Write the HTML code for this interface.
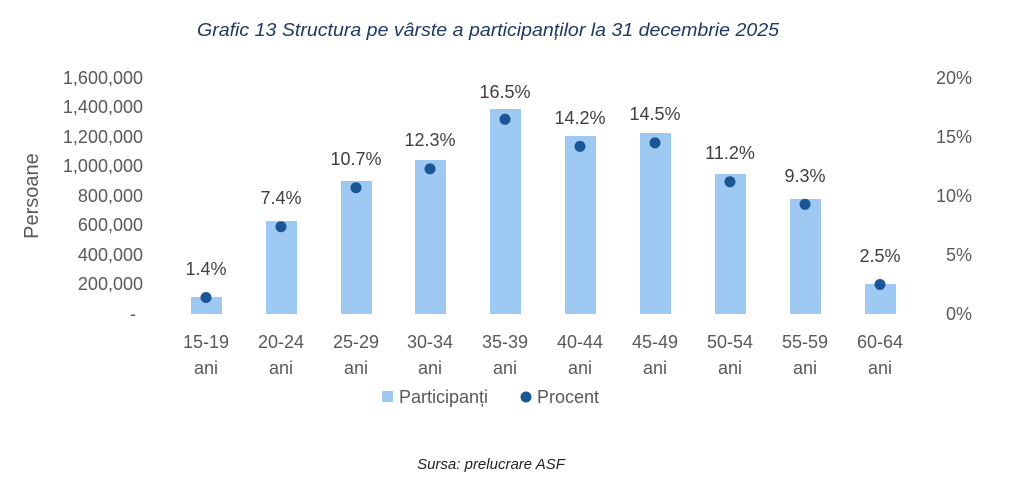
<!DOCTYPE html>
<html><head><meta charset="utf-8"><style>
body{margin:0;background:#fff;}
svg text{font-family:"Liberation Sans",sans-serif;}
</style></head><body>
<svg width="1024" height="484" xmlns="http://www.w3.org/2000/svg">
<text x="488" y="36" text-anchor="middle" font-size="18" font-style="italic" fill="#1f3864" textLength="582" lengthAdjust="spacingAndGlyphs">Grafic 13 Structura pe vârste a participanților la 31 decembrie 2025</text>
<g font-size="18" fill="#595959" text-anchor="end">
<text x="143" y="84">1,600,000</text>
<text x="143" y="113">1,400,000</text>
<text x="143" y="143">1,200,000</text>
<text x="143" y="172">1,000,000</text>
<text x="143" y="202">800,000</text>
<text x="143" y="231">600,000</text>
<text x="143" y="261">400,000</text>
<text x="143" y="290">200,000</text>
<text x="136" y="320">-</text>
</g>
<g font-size="18" fill="#595959" text-anchor="end">
<text x="972" y="84">20%</text>
<text x="972" y="143">15%</text>
<text x="972" y="202">10%</text>
<text x="972" y="261">5%</text>
<text x="972" y="320">0%</text>
</g>
<text transform="translate(38,196) rotate(-90)" text-anchor="middle" font-size="20" fill="#595959">Persoane</text>
<g fill="#9dc9f2">
<rect x="191" y="297" width="31" height="17"/>
<rect x="266" y="221" width="31" height="93"/>
<rect x="341" y="181" width="31" height="133"/>
<rect x="415" y="160" width="31" height="154"/>
<rect x="490" y="109" width="31" height="205"/>
<rect x="565" y="136" width="31" height="178"/>
<rect x="640" y="133" width="31" height="181"/>
<rect x="715" y="174" width="31" height="140"/>
<rect x="790" y="199" width="31" height="115"/>
<rect x="865" y="284" width="31" height="30"/>
</g>
<g fill="#1a5596">
<circle cx="206" cy="297.5" r="5.5"/>
<circle cx="281" cy="226.7" r="5.5"/>
<circle cx="356" cy="187.7" r="5.5"/>
<circle cx="430" cy="168.9" r="5.5"/>
<circle cx="505" cy="119.3" r="5.5"/>
<circle cx="580" cy="146.4" r="5.5"/>
<circle cx="655" cy="142.9" r="5.5"/>
<circle cx="730" cy="181.8" r="5.5"/>
<circle cx="805" cy="204.3" r="5.5"/>
<circle cx="880" cy="284.5" r="5.5"/>
</g>
<g font-size="18" fill="#404040" text-anchor="middle">
<text x="206" y="275">1.4%</text>
<text x="281" y="204">7.4%</text>
<text x="356" y="165">10.7%</text>
<text x="430" y="146">12.3%</text>
<text x="505" y="98">16.5%</text>
<text x="580" y="124">14.2%</text>
<text x="655" y="120">14.5%</text>
<text x="730" y="159">11.2%</text>
<text x="805" y="182">9.3%</text>
<text x="880" y="262">2.5%</text>
</g>
<g font-size="18" fill="#595959" text-anchor="middle">
<text x="206" y="348">15-19</text><text x="206" y="374">ani</text>
<text x="281" y="348">20-24</text><text x="281" y="374">ani</text>
<text x="356" y="348">25-29</text><text x="356" y="374">ani</text>
<text x="430" y="348">30-34</text><text x="430" y="374">ani</text>
<text x="505" y="348">35-39</text><text x="505" y="374">ani</text>
<text x="580" y="348">40-44</text><text x="580" y="374">ani</text>
<text x="655" y="348">45-49</text><text x="655" y="374">ani</text>
<text x="730" y="348">50-54</text><text x="730" y="374">ani</text>
<text x="805" y="348">55-59</text><text x="805" y="374">ani</text>
<text x="880" y="348">60-64</text><text x="880" y="374">ani</text>
</g>
<rect x="382" y="391" width="11" height="11" fill="#9dc9f2"/>
<text x="399" y="403" font-size="18" fill="#595959">Participanți</text>
<circle cx="526" cy="397" r="5.5" fill="#1a5596"/>
<text x="537" y="403" font-size="18" fill="#595959">Procent</text>
<text x="491" y="469" text-anchor="middle" font-size="15" font-style="italic" fill="#222">Sursa: prelucrare ASF</text>
</svg>
</body></html>
